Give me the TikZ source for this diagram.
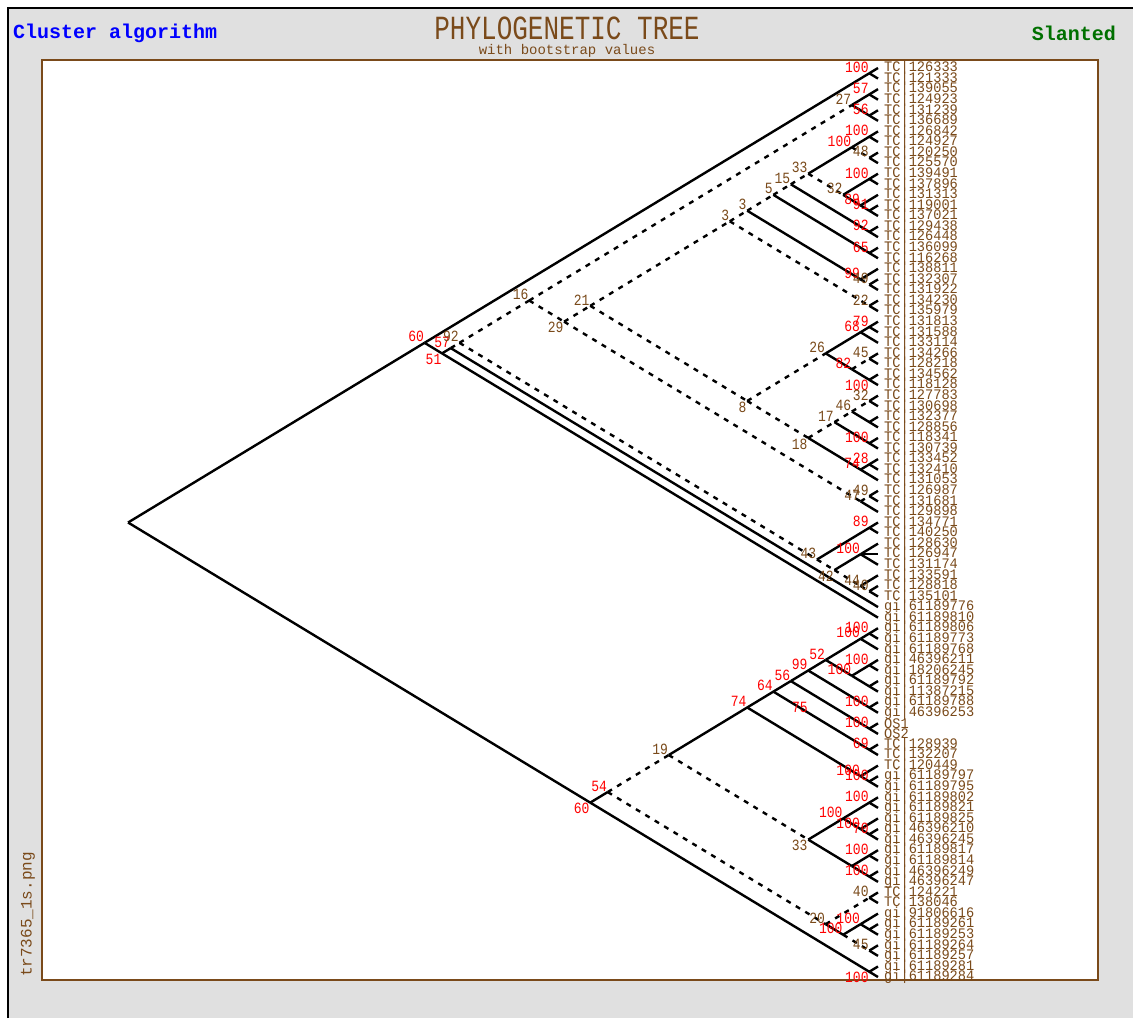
\documentclass[tikz,border=0pt]{standalone}
\usepackage{graphicx}
\usepackage{fontspec}
\usepackage{tikz}
\usetikzlibrary{positioning}
\newfontfamily\pixfont{Liberation Mono}
\definecolor{treebrown}{RGB}{122,74,26}
\definecolor{bootred}{RGB}{255,0,0}
\definecolor{slantgreen}{RGB}{0,112,0}
\definecolor{panelgray}{RGB}{224,224,224}

\begin{document}
\begin{tikzpicture}[
  x=1pt, y=-1pt,
  branch/.style={line width=2.4pt},
  weak/.style={line width=2.4pt, dash pattern=on 5pt off 6pt},
  leaflab/.style={anchor=west, inner sep=0pt, text=treebrown, font=\pixfont\fontsize{13}{13}\selectfont},
  redup/.style={anchor=south east, inner sep=0.5pt, text=bootred, font=\pixfont\fontsize{13}{13}\selectfont},
  reddn/.style={redup, anchor=north east},
  brup/.style={redup, text=treebrown},
  brdn/.style={brup, anchor=north east},
  header/.style={inner sep=0pt, font=\pixfont\bfseries\fontsize{20}{20}\selectfont}
]
  \useasboundingbox (0,0) rectangle (1133,1025);

  % Window and plot frame
  \fill[panelgray] (8,8) rectangle (1133,1018);
  \draw[line width=2pt] (8,1018) -- (8,8) -- (1133,8);
  \fill[white] (42,60) rectangle (1098,980);
  \draw[treebrown, line width=1.5pt] (42,60) rectangle (1098,980);

  % Header
  \node[header, text=blue, anchor=west] (algo) at (13,33) {Cluster algorithm};
  \node[inner sep=0pt, text=treebrown, font=\pixfont\fontsize{26}{26}\selectfont] (title) at (567,28) {\scalebox{1}[1.3]{PHYLOGENETIC TREE}};
  \node[below=4pt of title, inner sep=0pt, text=treebrown, font=\pixfont\fontsize{14}{14}\selectfont] (subtitle) {with bootstrap values};
  \node[header, text=slantgreen, anchor=east] (layout) at (1116,33) {Slanted};
  \node[rotate=90, anchor=west, inner sep=0pt, text=treebrown, font=\pixfont\fontsize{16}{16}\selectfont] (fname) at (28,977) {tr7365\_1s.png};

  % Leaves
  \foreach \lab [count=\i from 0] in {TC|126333, TC|121333, TC|139055, TC|124923, TC|131239, TC|136689,
    TC|126842, TC|124927, TC|120250, TC|125570, TC|139491, TC|137896, TC|131313, TC|119001, TC|137021,
    TC|129438, TC|126448, TC|136099, TC|116268, TC|138811, TC|132307, TC|131922, TC|134230, TC|135979,
    TC|131813, TC|131588, TC|133114, TC|134266, TC|128218, TC|134562, TC|118128, TC|127783, TC|130698,
    TC|132377, TC|128856, TC|118341, TC|130739, TC|133452, TC|132410, TC|131053, TC|126987, TC|131681,
    TC|129898, TC|134771, TC|140250, TC|128630, TC|126947, TC|131174, TC|133591, TC|128818, TC|135101,
    gi|61189776, gi|61189810, gi|61189806, gi|61189773, gi|61189768, gi|46396211, gi|18206245,
    gi|61189792, gi|11387215, gi|61189788, gi|46396253, OS1, OS2, TC|128939, TC|132207, TC|120449,
    gi|61189797, gi|61189795, gi|61189802, gi|61189821, gi|61189825, gi|46396210, gi|46396245,
    gi|61189817, gi|61189814, gi|46396249, gi|46396247, TC|124221, TC|138046, gi|91806616,
    gi|61189261, gi|61189253, gi|61189264, gi|61189257, gi|61189281, gi|61189284}
  {
    \coordinate (p\i) at (878,{68+10.57*\i});
    \node[leaflab] (l\i) at (884,{68+10.57*\i}) {\scalebox{1.05}[1.12]{\lab}};
  }

  % Clades: apex from first and last leaf
  \foreach \nd/\a/\b in {root/0/86, A/0/52, A0/0/1, B/2/52, C/2/51, D/2/50, E/2/42, G/2/5, G1/2/3, G2/4/5,
    I/6/42, J/6/39, L/6/23, S/6/21, U/6/18, V/6/16, R/6/14, X/6/9, X1/6/7, X2/8/9, Y/10/14, Y1/10/11,
    Y2/12/14, Y3/13/14, W/15/16, Z1/17/18, S1/19/21, S2/20/21, T/22/23, M/24/39, O/24/30, O1/24/26,
    O2/24/25, O3/27/30, O4/27/28, O5/29/30, N/31/39, P/31/36, P1/31/34, P2/31/32, P3/33/34, P4/35/36,
    Q/37/39, Q1/37/38, K/40/42, K0/40/41, F/43/50, F0/43/44, F2/45/50, F4/45/47, F3/48/50, F5/49/50,
    BT/53/86, BT1/85/86, BU/53/84, BV/53/77, BX/78/84, BY/53/68, BZ/69/77, CA/53/65, CB/53/63,
    CC/53/61, CE/53/59, CE1/53/55, CE3/53/54, CE2/56/59, CE4/56/57, CE5/58/59, CC1/60/61, CD/62/63,
    CA1/64/65, BY1/66/68, BY2/67/68, BZ1/69/73, BZ3/69/70, BZ4/71/73, BZ5/72/73, BZ2/74/77,
    BZ6/74/75, BZ7/76/77, BX1/78/79, BX2/80/84, BX3/80/82, BX5/81/82, BX4/83/84}
    \coordinate (\nd) at ({878-8.72*(\b-\a)},{68+10.57*(\a+\b)/2});

  % Supported branches
  \foreach \p/\c in {root/A, root/BT, A/A0, A/B, B/C, G/G1, G/G2, S/S1, U/Z1, V/W, R/X, X/X1, Y/Y1,
    Y/Y2, Y2/Y3, O/O1, O/O3, O1/O2, O3/O5, N/Q, P/P4, P1/P3, Q/Q1, F/F0, F2/F4,
    BT/BU, BT/BT1, BV/BY, BY/CA, BY/BY1, BY1/BY2, CA/CB, CA/CA1, CB/CC, CB/CD, CC/CE, CC/CC1,
    CE/CE1, CE/CE2, CE1/CE3, CE2/CE4, CE2/CE5, BZ/BZ1, BZ/BZ2, BZ1/BZ3, BZ1/BZ4, BZ4/BZ5,
    BZ2/BZ6, BZ2/BZ7, BX/BX2, BX2/BX3, BX3/BX5}
    \draw[branch] (\p) -- (\c);

  % Weak branches
  \foreach \p/\c in {C/D, D/E, D/F, E/G, E/I, I/J, I/K, J/L, J/M, L/S, L/T, S/U, U/V, V/R, R/Y,
    X/X2, S1/S2, M/O, M/N, O3/O4, N/P, P/P1, P1/P2, K/K0, F/F2, F2/F3, F3/F5,
    BU/BV, BU/BX, BV/BZ, BX/BX1, BX2/BX4}
    \draw[weak] (\p) -- (\c);

  % Terminal branches
  \foreach \p [count=\i from 0] in {A0,A0,G1,G1,G2,G2,X1,X1,X2,X2,Y1,Y1,Y2,Y3,Y3,W,W,Z1,Z1,S1,S2,S2,
    T,T,O2,O2,O1,O4,O4,O5,O5,P2,P2,P3,P3,P4,P4,Q1,Q1,Q,K0,K0,K,F0,F0,F4,F4,F4,F3,F5,F5,C,B,
    CE3,CE3,CE1,CE4,CE4,CE5,CE5,CC1,CC1,CD,CD,CA1,CA1,BY1,BY2,BY2,BZ3,BZ3,BZ4,BZ5,BZ5,BZ6,BZ6,
    BZ7,BZ7,BX1,BX1,BX3,BX5,BX5,BX4,BX4,BT1,BT1}
    \draw[branch] (\p) -- (p\i);

  % Bootstrap values
  \foreach \nd/\val/\sty in {A/60/redup, A0/100/redup, B/51/reddn, C/57/redup, D/92/brup, E/16/brup,
    G/27/brup, G1/57/redup, G2/56/redup, I/29/brdn, J/21/brup, L/3/brup, S/3/brup, U/5/brup,
    V/15/brup, R/33/brup, X/100/redup, X1/100/redup, X2/48/brup, Y/32/brup, Y1/100/redup,
    Y2/89/redup, Y3/91/redup, W/92/redup, Z1/65/redup, S1/99/redup, S2/49/brup, T/22/brup,
    M/8/brdn, O/26/brup, O1/68/redup, O2/79/redup, O3/82/redup, O4/45/brup, O5/100/reddn,
    N/18/brdn, P/17/brup, P1/46/brup, P2/32/brup, P4/100/redup, Q/74/redup, Q1/28/redup,
    K/47/brup, K0/49/brup, F/43/brup, F0/89/redup, F2/42/brdn, F4/100/redup, F3/44/brup, F5/40/brup,
    BT/60/reddn, BT1/100/reddn, BU/54/redup, BV/19/brup, BX/20/brup, BY/74/redup, BZ/33/brdn,
    CA/64/redup, CB/56/redup, CC/99/redup, CE/52/redup, CE1/100/redup, CE3/100/redup,
    CE2/100/redup, CE4/100/redup, CC1/100/redup, CD/100/redup, CA1/69/redup, BY1/100/redup,
    BY2/100/redup, BZ1/100/redup, BZ3/100/redup, BZ4/100/redup, BZ5/70/redup, BZ6/100/redup,
    BZ7/100/redup, BX1/40/brup, BX2/100/redup, BX3/100/redup, BX4/45/brup}
    \node[\sty] (b\nd) at (\nd) {\scalebox{1}[1.2]{\val}};
  \node[reddn, xshift=35pt, yshift=-10pt] (bCA75) at (CA) {\scalebox{1}[1.2]{75}};
\end{tikzpicture}
\end{document}
